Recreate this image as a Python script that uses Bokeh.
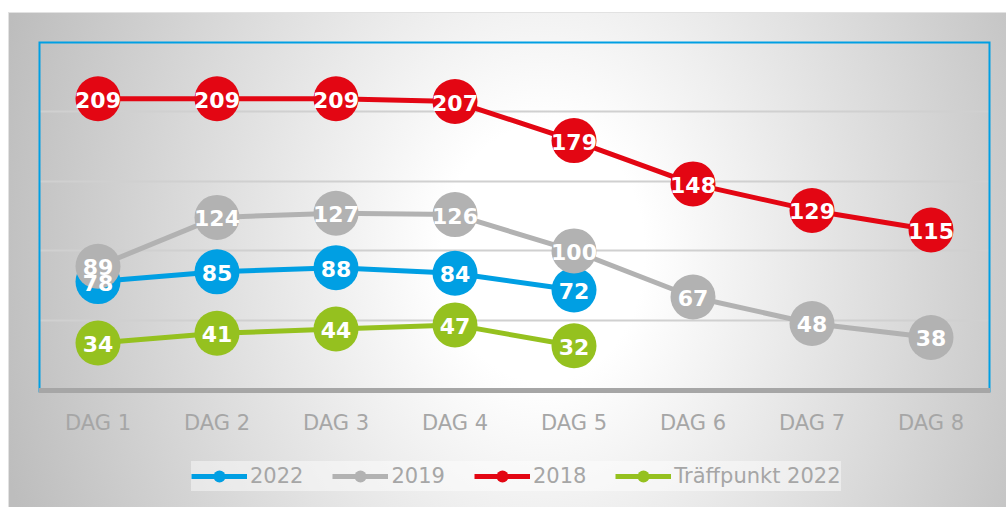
from bokeh.plotting import figure
from bokeh.models import (ColumnDataSource, FactorRange, Range1d, FixedTicker, Legend,
                          LegendItem, BoxAnnotation, Span)
from bokeh.core.properties import value
from bokeh.embed import file_html
from bokeh.resources import INLINE

days = ["DAG 1", "DAG 2", "DAG 3", "DAG 4", "DAG 5", "DAG 6", "DAG 7", "DAG 8"]
v2022 = [78, 85, 88, 84, 72]
v2019 = [89, 124, 127, 126, 100, 67, 48, 38]
v2018 = [209, 209, 209, 207, 179, 148, 129, 115]
vtraff = [34, 41, 44, 47, 32]
names = ["2022", "2019", "2018", "Träffpunkt 2022"]
colors = ["#009fe3", "#b2b2b2", "#e30613", "#95c11f"]
series = [v2022, v2019, v2018, vtraff]
y_min, y_max = 0, 250
grid_ticks = [50, 100, 150, 200]

FONT = "DejaVu Sans"
AXIS_GREY = "#a6a6a6"

# frame spans from the top of the plot area down to the bottom of the canvas;
# values below 0 hold the category labels and the legend
px_per_unit = 349 / (y_max - y_min)
lower = y_min - (507 - 41 - 349) / px_per_unit

p = figure(width=1006, height=507, x_range=FactorRange(*days, range_padding=0),
           y_range=Range1d(lower, y_max), output_backend="svg", toolbar_location=None,
           min_border_left=38, min_border_right=16, min_border_top=41, min_border_bottom=0)

p.background_fill_alpha = 0
p.border_fill_alpha = 0
p.outline_line_color = None
p.styles = {
    "background": "linear-gradient(#ffffff, #ffffff) 0 0 / 100% 12px no-repeat, "
                  "linear-gradient(#ffffff, #ffffff) 0 0 / 8px 100% no-repeat, "
                  "linear-gradient(#e2e2e2, #e2e2e2) 8px 12px / 1px 100% no-repeat, "
                  "linear-gradient(#e2e2e2, #e2e2e2) 8px 12px / 100% 1px no-repeat, "
                  "radial-gradient(ellipse 56% 140% at 54% 50%, #ffffff 0%, #ffffff 18%, #bdbdbd 100%)",
}
p.xaxis.visible = False
p.yaxis.visible = False
p.ygrid.ticker = FixedTicker(ticks=grid_ticks)
p.ygrid.grid_line_color = "#d0d0d0"
p.ygrid.grid_line_width = 2
p.xgrid.grid_line_color = None

# plot-area border (blue) and category axis line (grey)
p.add_layout(BoxAnnotation(bottom=y_min, top=y_max, fill_alpha=0, line_color="#009fe3",
                           line_alpha=1.0, line_width=4, level="underlay"))
p.add_layout(Span(location=y_min, dimension="width", line_color=AXIS_GREY, line_width=5,
                  level="underlay"))

# category labels under the axis line
p.text(x=days, y=[y_min] * len(days), text=days, text_color=AXIS_GREY, text_font=value(FONT),
       text_font_size="21px", text_align="center", text_baseline="middle", y_offset=32)

items = []
label_sources = []
for name, vals, col in zip(names, series, colors):
    src = ColumnDataSource(dict(x=days[:len(vals)], y=vals, t=[str(v) for v in vals]))
    lr = p.line("x", "y", source=src, line_width=5, line_color=col, line_join="round")
    sr = p.scatter("x", "y", source=src, marker="circle", size=45, fill_color=col, line_color=None)
    items.append(LegendItem(label=name, renderers=[lr, sr]))
    label_sources.append(src)

for src in label_sources:
    p.text("x", "y", text="t", source=src, text_color="white", text_font=value(FONT),
           text_font_style="bold", text_font_size="22px", text_align="center",
           text_baseline="middle", y_offset=1)

legend = Legend(items=items, orientation="horizontal", location=(153, 16),
                glyph_width=56, glyph_height=30, label_standoff=3, spacing=29, padding=7,
                background_fill_color="#ffffff", background_fill_alpha=0.45,
                border_line_color=None, label_text_font=FONT, label_text_font_size="21px",
                label_text_color=AXIS_GREY, label_text_baseline="middle")
p.add_layout(legend, "center")

open("out.html", "w").write(file_html(p, INLINE))
